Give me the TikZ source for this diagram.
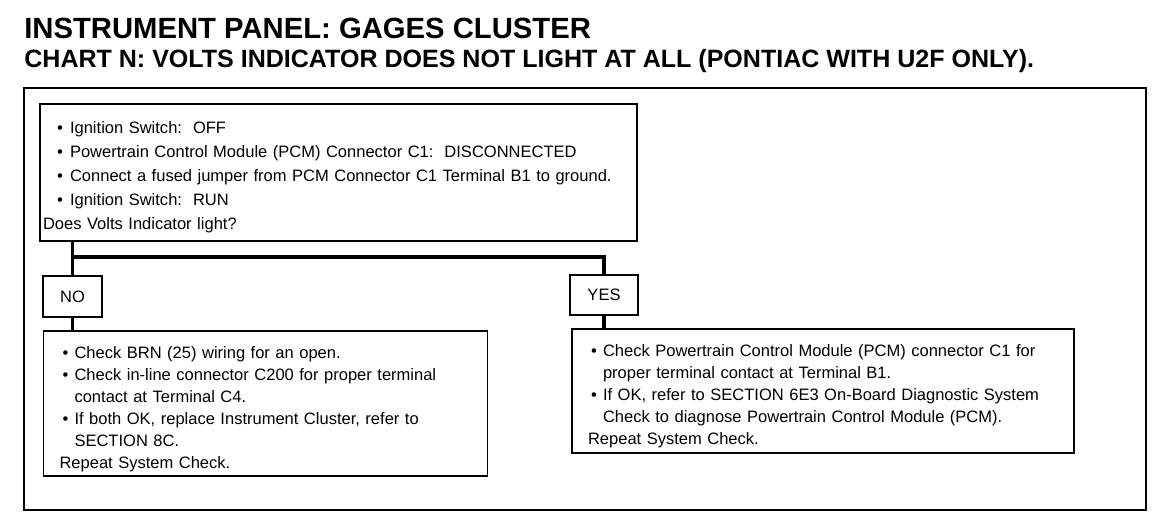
\documentclass[tikz,border=0pt]{standalone}
\usepackage{fontspec}
\setmainfont{Liberation Sans}
\usetikzlibrary{positioning}

% bullets for the question box and for the result boxes
\newcommand{\qbul}{\hspace*{0.28cm}\makebox[0.26cm][l]{\textbullet}}
\newcommand{\qcont}{\hspace*{0.54cm}}
\newcommand{\rbul}{\hspace*{0.06cm}\makebox[0.24cm][l]{\textbullet}}
\newcommand{\rcont}{\hspace*{0.30cm}}
% first-line strut, pushes the text a little down in its box
\newcommand{\lead}[1]{\rule{0pt}{#1}}

\begin{document}
\begin{tikzpicture}[
    x=0.02cm, y=-0.02cm,
    every node/.style={font=\fontsize{9.4}{12.5}\selectfont},
    heading/.style={anchor=base west, inner sep=0pt, font=\bfseries\fontsize{16.65}{20}\selectfont},
    subheading/.style={anchor=base west, inner sep=0pt, font=\bfseries\fontsize{14.25}{17}\selectfont},
    quest/.style={draw, line width=1pt, inner xsep=0.06cm, inner ysep=0pt,
                  text width=11.82cm, minimum height=2.74cm, align=left,
                  font=\fontsize{9.4}{13.66}\selectfont},
    answer/.style={draw, line width=1pt, inner sep=0pt, minimum height=0.81cm},
    result/.style={draw, line width=1pt, inner xsep=0.32cm, inner ysep=0pt, align=left},
    conn/.style={line width=1.8pt},
  ]
    \useasboundingbox (0,0) rectangle (1152,528);
    \node[heading] (title) at (24,38) {INSTRUMENT PANEL: GAGES CLUSTER};
    \node[subheading] (chart) at (24,67)
      {CHART N: VOLTS INDICATOR DOES NOT LIGHT AT ALL (PONTIAC WITH U2F ONLY).};
    \draw[line width=0.8pt] (24,88) rectangle (1146,510);
    \node[quest] (check) at (338.5,172.5)
      {\lead{0.44cm}\qbul Ignition Switch:\ \ OFF\\
       \qbul Powertrain Control Module (PCM) Connector C1:\ \ DISCONNECTED\\
       \qbul Connect a fused jumper from PCM Connector C1 Terminal B1 to ground.\\
       \qbul Ignition Switch:\ \ RUN\\
       Does Volts Indicator light?};
    \node[answer, minimum width=1.18cm] (no) at (72.5,296.5) {NO};
    \node[answer, minimum width=1.36cm] (yes) at (604,295) {YES};
    \node[result, text width=8.24cm, minimum height=2.9cm] (nores) at (265.5,403.5)
      {\lead{0.48cm}\rbul Check BRN (25) wiring for an open.\\
       \rbul Check in-line connector C200 for proper terminal\\
       \rcont contact at Terminal C4.\\
       \rbul If both OK, replace Instrument Cluster, refer to\\
       \rcont SECTION 8C.\\
       Repeat System Check.};
    \node[result, text width=9.4cm, minimum height=2.48cm] (yesres) at (823,391)
      {\lead{0.46cm}\rbul Check Powertrain Control Module (PCM) connector C1 for\\
       \rcont proper terminal contact at Terminal B1.\\
       \rbul If OK, refer to SECTION 6E3 On-Board Diagnostic System\\
       \rcont Check to diagnose Powertrain Control Module (PCM).\\
       Repeat System Check.};
    \coordinate (split) at (72.5,257);
    \draw[conn] (check.south -| no.north) -- (no.north);
    \draw[conn] (split) -| (yes.north);
    \draw[conn] (no.south) -- (no.south |- nores.north);
    \draw[conn] (yes.south) -- (yes.south |- yesres.north);
  \end{tikzpicture}
\end{document}
